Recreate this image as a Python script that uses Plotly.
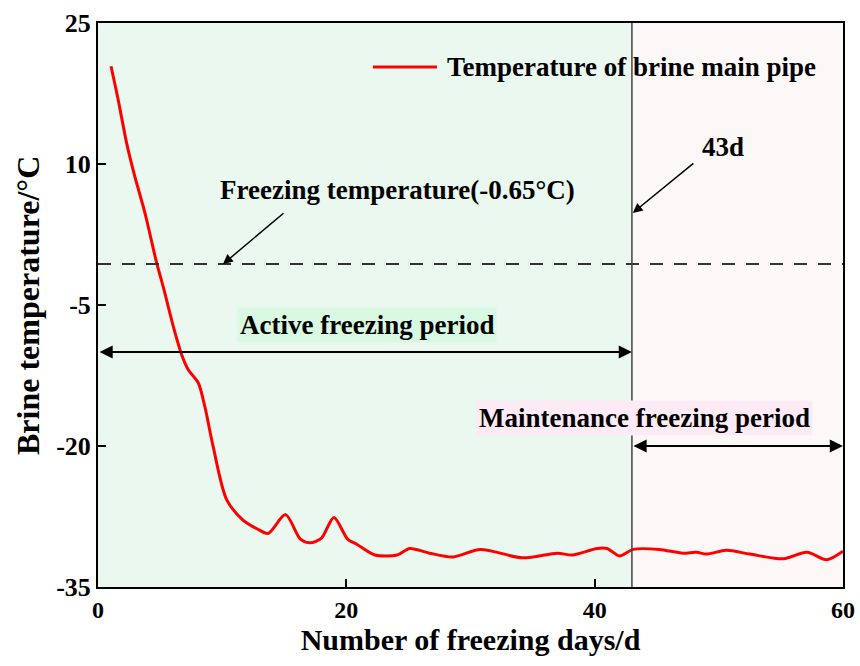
import plotly.graph_objects as go

# Brine main pipe temperature over the freezing days
days = [1.05, 1.63, 2.31, 2.98, 3.78, 4.72, 5.26, 6.07, 6.74, 7.27, 8.08, 8.62,
        9.28, 10.36, 11.7, 12.8, 13.7, 15.1, 16.3, 17.1, 18.0, 19.0, 20.1, 20.9,
        22.3, 24.1, 25.1, 26.7, 28.6, 30.8, 34.2, 37.0, 38.2, 40.2, 41.0, 42.0,
        43.1, 45.2, 47.1, 48.2, 49.0, 50.6, 52.5, 55.2, 57.1, 58.7, 60.0]
temps = [20.4, 16.8, 12.2, 8.6, 4.8, -0.5, -3.1, -7.3, -10.3, -11.9, -13.3, -15.9,
         -20.1, -25.7, -27.9, -28.8, -29.3, -27.3, -29.9, -30.3, -29.8, -27.6, -29.9, -30.5,
         -31.6, -31.6, -30.9, -31.4, -31.8, -31.0, -31.9, -31.4, -31.6, -30.9, -30.9, -31.7,
         -31.0, -31.0, -31.4, -31.3, -31.5, -31.1, -31.5, -32.0, -31.3, -32.1, -31.2]

series_name = "Temperature of brine main pipe"
freezing_temp = -0.65
switch_day = 43
x_range = [0, 60]
y_range = [-35, 25]
x_ticks = [0, 20, 40, 60]
y_ticks = [25, 10, -5, -20, -35]

FONT = "Liberation Serif"
RED = "#ff0000"

fig = go.Figure()

fig.add_trace(go.Scatter(
    x=days, y=temps, mode="lines", name=series_name, showlegend=False,
    line=dict(color=RED, width=3, shape="spline", smoothing=0.8),
))

# Shaded periods
fig.add_shape(type="rect", xref="x", yref="y", x0=x_range[0], x1=switch_day,
              y0=y_range[0], y1=y_range[1], fillcolor="#ebf8ef", line_width=0, layer="below")
fig.add_shape(type="rect", xref="x", yref="y", x0=switch_day, x1=x_range[1],
              y0=y_range[0], y1=y_range[1], fillcolor="#fdf8f8", line_width=0, layer="below")

# Freezing temperature reference and period boundary
fig.add_shape(type="line", xref="x", yref="y", x0=x_range[0], x1=x_range[1],
              y0=freezing_temp, y1=freezing_temp,
              line=dict(color="#333333", width=2, dash="13px,11px"))
fig.add_shape(type="line", xref="x", yref="y", x0=switch_day, x1=switch_day,
              y0=y_range[0], y1=y_range[1], line=dict(color="#444444", width=1.5))

txt = dict(family=FONT, size=27, color="black", weight="bold")

# Legend entry
fig.add_shape(type="line", xref="paper", yref="paper", x0=0.369, x1=0.455,
              y0=0.922, y1=0.922, line=dict(color=RED, width=3))
fig.add_annotation(x=0.466, y=0.922, xref="paper", yref="paper", showarrow=False,
                   xanchor="left", yanchor="middle", text=series_name, font=txt)

# Pointer annotations
fig.add_annotation(x=10.07, y=freezing_temp, ax=15.06, ay=4.9, axref="x", ayref="y",
                   xref="x", yref="y", showarrow=True, arrowhead=2, arrowsize=1.3,
                   arrowwidth=1.5, arrowcolor="black", text="")
fig.add_annotation(x=24.1, y=7.2, xref="x", yref="y", showarrow=False,
                   text="Freezing temperature(-0.65°C)", font=txt)
fig.add_annotation(x=switch_day + 0.07, y=4.8, ax=48.07, ay=10.2, axref="x", ayref="y",
                   xref="x", yref="y", showarrow=True, arrowhead=2, arrowsize=1.3,
                   arrowwidth=1.5, arrowcolor="black", text="")
fig.add_annotation(x=50.3, y=11.8, xref="x", yref="y", showarrow=False,
                   text="43d", font=txt)

# Period double arrows
fig.add_annotation(x=switch_day, y=-10, ax=x_range[0], ay=-10, axref="x", ayref="y",
                   xref="x", yref="y", showarrow=True, arrowhead=2, startarrowhead=2,
                   arrowside="end+start", arrowsize=1.2, arrowwidth=2.2,
                   arrowcolor="black", text="")
fig.add_annotation(x=21.7, y=-7.1, xref="x", yref="y", showarrow=False,
                   text="Active freezing period", font=txt, bgcolor="#d9f9e2",
                   borderpad=2)
fig.add_annotation(x=x_range[1], y=-20, ax=switch_day, ay=-20, axref="x", ayref="y",
                   xref="x", yref="y", showarrow=True, arrowhead=2, startarrowhead=2,
                   arrowside="end+start", arrowsize=1.2, arrowwidth=2.2,
                   arrowcolor="black", text="")
fig.add_annotation(x=44.0, y=-17.0, xref="x", yref="y", showarrow=False,
                   text="Maintenance freezing period", font=txt, bgcolor="#fcebf5",
                   borderpad=2)

# Y axis title
fig.add_annotation(x=-0.094, y=0.5, xref="paper", yref="paper", showarrow=False,
                   xanchor="center", yanchor="middle",
                   text="Brine temperature/°C", textangle=-90,
                   font=dict(family=FONT, size=32, color="black", weight="bold"))

axis_common = dict(showline=True, linecolor="black", linewidth=2, mirror=True,
                   ticks="inside", ticklen=8, tickwidth=2, tickcolor="black",
                   showgrid=False, zeroline=False, automargin=False)

fig.update_xaxes(range=x_range, tickvals=x_ticks,
                 ticktext=[f"<b>{v}</b>" for v in x_ticks], **axis_common,
                 tickfont=dict(family=FONT, size=24, color="black", weight="bold"),
                 title=dict(text="<b>Number of freezing days/d</b>", standoff=6,
                            font=dict(family=FONT, size=30, color="black", weight="bold")))
fig.update_yaxes(range=y_range, tickvals=y_ticks,
                 ticktext=[f"<b>{v}</b>" for v in y_ticks], **axis_common,
                 tickfont=dict(family=FONT, size=26, color="black", weight="bold"))

fig.update_layout(
    width=860, height=666,
    margin=dict(l=98, r=17, t=23, b=79),
    paper_bgcolor="white", plot_bgcolor="white",
    font=dict(family=FONT, color="black"),
    showlegend=False,
)

fig.write_html("out.html")
